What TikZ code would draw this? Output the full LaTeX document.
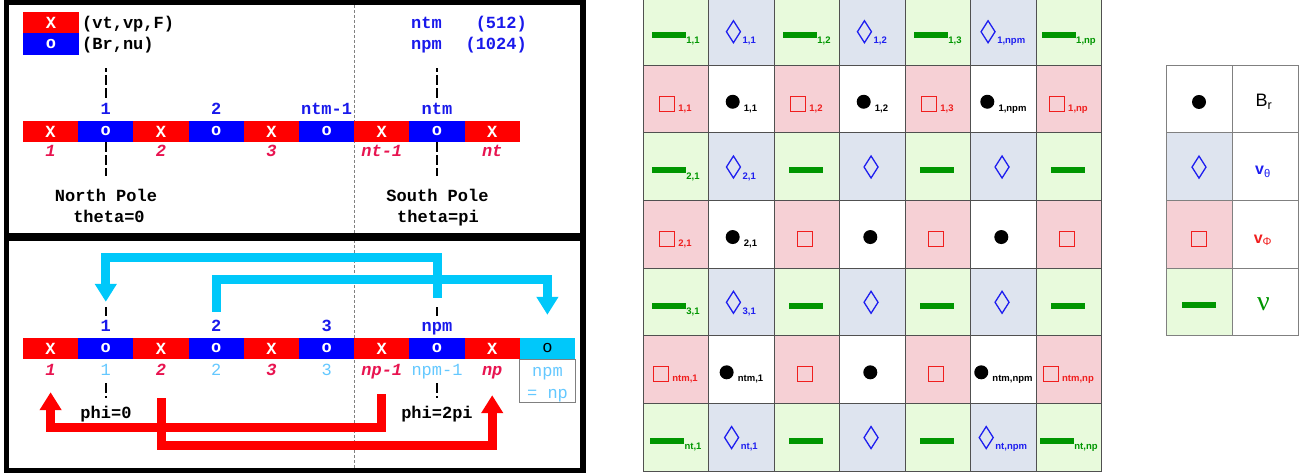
\documentclass[tikz,border=0pt]{standalone}
\usepackage{fontspec}
\setmainfont{Liberation Sans}
\setmonofont{Liberation Mono}
\newfontfamily\greekserif{Liberation Serif}
\usetikzlibrary{arrows.meta}

\definecolor{xred}{RGB}{255,0,0}
\definecolor{oblue}{RGB}{0,0,255}
\definecolor{idxblue}{RGB}{25,25,235}
\definecolor{idxred}{RGB}{232,20,80}
\definecolor{idxcyan}{RGB}{100,200,255}
\definecolor{wrapcyan}{RGB}{0,200,250}
\definecolor{nugreen}{RGB}{0,150,0}
\definecolor{vtblue}{RGB}{30,30,240}
\definecolor{vpred}{RGB}{240,30,30}
\definecolor{nucell}{RGB}{232,250,220}
\definecolor{vtcell}{RGB}{222,228,239}
\definecolor{vpcell}{RGB}{246,208,213}
\definecolor{gridline}{RGB}{80,80,80}
\definecolor{keyline}{RGB}{128,128,128}

\newcommand{\monosize}{\fontsize{17}{21}\selectfont}

\tikzset{
  panel/.style={draw=black, line width=5.5pt},
  cell/.style={minimum width=55.2pt, minimum height=21pt, inner sep=0pt,
    text=white, font=\ttfamily\bfseries\monosize},
  mono/.style={inner sep=0pt, font=\ttfamily\bfseries\monosize},
  upidx/.style={mono, text=idxblue},
  lowidx/.style={inner sep=0pt, text=idxred, font=\ttfamily\bfseries\itshape\monosize},
  wrapidx/.style={inner sep=0pt, text=idxcyan, font=\ttfamily\monosize},
  tick/.style={dash pattern=on 10pt off 3pt, line width=1.5pt},
  wrap/.style={line width=9pt, -{Triangle[width=21pt, length=18pt]}},
  subtext/.style={inner sep=0pt, font=\bfseries\fontsize{9.5}{9.5}\selectfont},
  keycell/.style={draw=keyline, line width=1pt, minimum width=66pt, minimum height=67.64pt, inner sep=0pt},
  brsym/.pic={\fill[black] (0,0) circle (7);},
  vtsym/.pic={\draw[vtblue, line width=1.3pt] (0,-11) -- (7,0) -- (0,11) -- (-7,0) -- cycle;},
  vpsym/.pic={\draw[vpred, line width=1.3pt] (-7.5,-7.5) rectangle (7.5,7.5);},
  nusym/.pic={\fill[nugreen] (-17,-3) rectangle (17,3);},
}

\begin{document}
\begin{tikzpicture}[x=1pt, y=-1pt]
\useasboundingbox (0,0) rectangle (1302,476);

% the two framed panels and the guide line between hemispheres
\draw[gray, line width=0.8pt, dash pattern=on 3pt off 2pt] (354,5) -- (354,469);
\draw[panel] (6.5,2.5) rectangle (583,235.5);
\draw[panel] (6.5,238) rectangle (583,470.5);

% key of the strip colours
\node[cell, fill=xred, minimum width=56pt, minimum height=21.5pt] (keyx) at (51,22.5) {X};
\node[cell, fill=oblue, minimum width=56pt, minimum height=21.5pt] (keyo) at (51,44) {o};
\node[mono, anchor=base west] (keyxt) at (82,28.5) {(vt,vp,F)};
\node[mono, anchor=base west] (keyot) at (82,50) {(Br,nu)};
\node[upidx, anchor=base west] (ntmname) at (411,28.5) {ntm};
\node[upidx, anchor=base east] (ntmval) at (527,28.5) {(512)};
\node[upidx, anchor=base west] (npmname) at (411,50) {npm};
\node[upidx, anchor=base east] (npmval) at (527,50) {(1024)};

% theta strip (top) and phi strip (bottom)
\foreach \i in {1,...,9} {
  \pgfmathsetmacro{\cx}{23+55.2*(\i-0.5)}
  \ifodd\i\relax
    \node[cell, fill=xred] (t\i) at (\cx,131.5) {X};
    \node[cell, fill=xred] (p\i) at (\cx,348.5) {X};
  \else
    \node[cell, fill=oblue] (t\i) at (\cx,131.5) {o};
    \node[cell, fill=oblue] (p\i) at (\cx,348.5) {o};
  \fi
}
\node[cell, fill=wrapcyan, text=black, font=\ttfamily\monosize] (p10) at (547.4,348.5) {o};
\node[draw=keyline, line width=1pt, anchor=north, minimum width=55.2pt, minimum height=43pt, inner sep=0pt] (wrapbox) at (p10.south) {};

\foreach \i/\lbl in {2/1, 4/2, 6/ntm-1, 8/ntm}
  \node[upidx, anchor=base] (tu\i) at ({23+55.2*(\i-0.5)},115) {\lbl};
\foreach \i/\lbl in {1/1, 3/2, 5/3, 7/nt-1, 9/nt}
  \node[lowidx, anchor=base] (tl\i) at ({23+55.2*(\i-0.5)},157) {\lbl};
\foreach \i/\lbl in {2/1, 4/2, 6/3, 8/npm}
  \node[upidx, anchor=base] (pu\i) at ({23+55.2*(\i-0.5)},331.5) {\lbl};
\foreach \i/\lbl in {1/1, 3/2, 5/3, 7/np-1, 9/np}
  \node[lowidx, anchor=base] (pl\i) at ({23+55.2*(\i-0.5)},375) {\lbl};
\foreach \i/\lbl in {2/1, 4/2, 6/3, 8/npm-1}
  \node[wrapidx, anchor=base] (pl\i) at ({23+55.2*(\i-0.5)},375) {\lbl};
\node[wrapidx, anchor=base] (wrapnpm) at (547.5,376.5) {npm};
\node[wrapidx, anchor=base] (wrapnp) at (547.5,398) {= np};

% poles and ends of the longitude range
\foreach \i in {2,8} {
  \draw[tick] ([yshift=23pt]t\i.north) -- ++(0,-30);
  \draw[tick] (t\i.south) -- ++(0,34);
  \draw[tick] ([yshift=22pt]p\i.north) -- ++(0,-9);
  \draw[tick] ([yshift=-24pt]p\i.south) -- ++(0,15);
}
\node[mono, anchor=base] (north) at (106,201.5) {North Pole};
\node[mono, anchor=base] (northth) at (109,222.5) {theta=0};
\node[mono, anchor=base] (south) at (437.5,201.5) {South Pole};
\node[mono, anchor=base] (southth) at (438,222.5) {theta=pi};
\node[mono, anchor=base] (phizero) at (106,418) {phi=0};
\node[mono, anchor=base] (phitwo) at (437,418) {phi=2pi};

% periodic copies in phi
\coordinate (wa) at ([yshift=40pt]p8.north);
\coordinate (wb) at ([yshift=36pt]p2.north);
\coordinate (wc) at ([yshift=26pt]p4.north);
\coordinate (wd) at ([yshift=23pt]p10.north);
\draw[wrap, wrapcyan] (wa) -- ++(0,-40) -| (wb);
\draw[wrap, wrapcyan] (wc) -- ++(0,-32) -| (wd);
\coordinate (ra) at ([yshift=-35pt]p7.south);
\coordinate (rb) at ([yshift=-33pt]p1.south);
\coordinate (rc) at ([yshift=-39pt]p3.south);
\coordinate (rd) at ([yshift=-36pt]p9.south);
\draw[wrap, red] (ra) -- ++(0,33) -| (rb);
\draw[wrap, red] (rc) -- ++(0,47) -| (rd);

% staggered field grid
\foreach \r/\c/\s in {
  1/1/{1,1}, 1/2/{1,1}, 1/3/{1,2}, 1/4/{1,2}, 1/5/{1,3}, 1/6/{1,npm}, 1/7/{1,np},
  2/1/{1,1}, 2/2/{1,1}, 2/3/{1,2}, 2/4/{1,2}, 2/5/{1,3}, 2/6/{1,npm}, 2/7/{1,np},
  3/1/{2,1}, 3/2/{2,1}, 3/3/{}, 3/4/{}, 3/5/{}, 3/6/{}, 3/7/{},
  4/1/{2,1}, 4/2/{2,1}, 4/3/{}, 4/4/{}, 4/5/{}, 4/6/{}, 4/7/{},
  5/1/{3,1}, 5/2/{3,1}, 5/3/{}, 5/4/{}, 5/5/{}, 5/6/{}, 5/7/{},
  6/1/{ntm,1}, 6/2/{ntm,1}, 6/3/{}, 6/4/{}, 6/5/{}, 6/6/{ntm,npm}, 6/7/{ntm,np},
  7/1/{nt,1}, 7/2/{nt,1}, 7/3/{}, 7/4/{}, 7/5/{}, 7/6/{nt,npm}, 7/7/{nt,np}} {
  \pgfmathsetmacro{\cx}{643+65.5*(\c-0.5)}
  \pgfmathsetmacro{\cy}{-2.5+67.64*(\r-0.5)}
  \pgfmathtruncatemacro{\kind}{2*mod(\r+1,2)+mod(\c+1,2)}
  \ifcase\kind\relax
    \def\fillc{nucell}\def\symc{nugreen}\def\symw{34.5}\def\symx{17}\def\symy{8.6}
  \or
    \def\fillc{vtcell}\def\symc{vtblue}\def\symw{16}\def\symx{7}\def\symy{12}
  \or
    \def\fillc{vpcell}\def\symc{vpred}\def\symw{18.5}\def\symx{7.5}\def\symy{7.6}
  \or
    \def\fillc{white}\def\symc{black}\def\symw{18.5}\def\symx{7.5}\def\symy{9.6}
  \fi
  \draw[gridline, fill=\fillc, line width=0.9pt] (\cx-32.75,\cy-33.82) rectangle ++(65.5,67.64);
  \node[subtext, text=\symc, anchor=base] (f\r\c) at (\cx,\cy+12.4) {\hspace*{\symw pt}\s};
  \coordinate (m\r\c) at ([xshift=\symx pt, yshift=\symy pt]f\r\c.base west);
  \ifcase\kind\relax
    \pic at (m\r\c) {nusym};
  \or
    \pic at (m\r\c) {vtsym};
  \or
    \pic at (m\r\c) {vpsym};
  \or
    \pic at (m\r\c) {brsym};
  \fi
}

% key of the grid symbols
\node[keycell, fill=white] (keybr) at (1199,98.96) {};
\node[keycell, fill=vtcell] (keyvt) at (1199,166.6) {};
\node[keycell, fill=vpcell] (keyvp) at (1199,234.24) {};
\node[keycell, fill=nucell] (keynu) at (1199,301.88) {};
\foreach \k in {br,vt,vp,nu}
  \node[keycell] (key\k name) at ([xshift=66pt]key\k.center) {};
\pic at ([yshift=-3pt]keybr.center) {brsym};
\pic at ([yshift=-0.5pt]keyvt.center) {vtsym};
\pic at ([yshift=-5pt]keyvp.center) {vpsym};
\pic at ([yshift=-3.6pt]keynu.center) {nusym};
\node[inner sep=0pt, anchor=base, font=\fontsize{18}{18}\selectfont] (brtxt) at (1264,107) {B\textsubscript{r}};
\node[inner sep=0pt, anchor=base, text=vtblue, font=\fontsize{16}{16}\selectfont] (vttxt) at (1263,175) {\textbf{v}\textsubscript{θ}};
\node[inner sep=0pt, anchor=base, text=vpred, font=\fontsize{16}{16}\selectfont] (vptxt) at (1263,243) {\textbf{v}\textsubscript{Φ}};
\node[inner sep=0pt, anchor=base, text=nugreen, font=\greekserif\fontsize{28}{28}\selectfont] (nutxt) at (1263.5,310) {ν};
\end{tikzpicture}
\end{document}
